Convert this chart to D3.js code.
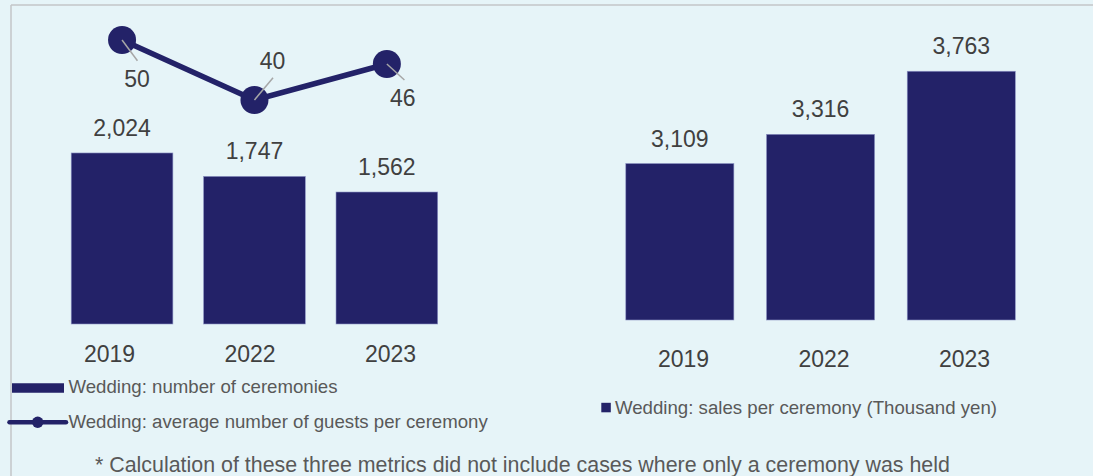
<!DOCTYPE html>
<html>
<head>
<meta charset="utf-8">
<script src="https://cdn.jsdelivr.net/npm/d3@7"></script>
<style>
  html, body { margin: 0; padding: 0; background: #e6f4f8; }
  svg { display: block; font-family: "Liberation Sans", Arial, sans-serif; }
</style>
</head>
<body>
<svg id="chart" width="1093" height="476"></svg>
<script>
// Wedding business metrics, 2019 / 2022 / 2023
const years = ["2019", "2022", "2023"];
const ceremonies = [2024, 1747, 1562];          // number of ceremonies
const guestsPerCeremony = [50, 40, 46];         // average guests per ceremony
const salesPerCeremony = [3109, 3316, 3763];    // thousand yen per ceremony

const legendCeremonies = "Wedding: number of ceremonies";
const legendGuests = "Wedding: average number of guests per ceremony";
const legendSales = "Wedding: sales per ceremony (Thousand yen)";
const footnote = "* Calculation of these three metrics did not include cases where only a ceremony was held";

const NAVY = "#232268";
const VALUE_TEXT = "#404040";
const LEGEND_TEXT = "#595959";
const fmt = d3.format(",");

const svg = d3.select("#chart");

// frame lines
svg.append("line").attr("x1", 11).attr("x2", 1093).attr("y1", 5).attr("y2", 5)
  .attr("stroke", "#c3c6c8").attr("stroke-width", 1.5);
svg.append("line").attr("x1", 11).attr("x2", 11).attr("y1", 5).attr("y2", 476)
  .attr("stroke", "#c3c6c8").attr("stroke-width", 1.5);

// ---------- left panel: ceremonies (bars) + guests (line) ----------
const xL = d3.scaleBand().domain(years).range([71.2, 437.7]).paddingInner(0.232).paddingOuter(0);
const yL = d3.scaleLinear().domain([0, 2500]).range([324, 112.75]);
const yG = d3.scaleLinear().domain([0, 60]).range([340, -20]);
const xLabelL = d3.scalePoint().domain(years).range([109, 390]);

const left = svg.append("g");
left.selectAll("rect.bar").data(years).join("rect")
  .attr("class", "bar")
  .attr("x", d => xL(d))
  .attr("width", xL.bandwidth())
  .attr("y", (d, i) => yL(ceremonies[i]))
  .attr("height", (d, i) => yL(0) - yL(ceremonies[i]))
  .attr("fill", NAVY)
  .attr("stroke", "#8c93c4").attr("stroke-width", 0.6);

left.selectAll("text.val").data(years).join("text")
  .attr("class", "val")
  .attr("x", d => xL(d) + xL.bandwidth() / 2)
  .attr("y", (d, i) => yL(ceremonies[i]) - 17)
  .attr("text-anchor", "middle")
  .attr("font-size", 23).attr("fill", VALUE_TEXT)
  .text((d, i) => fmt(ceremonies[i]));

const axL = left.append("g").attr("transform", "translate(0,362)")
  .call(d3.axisBottom(xLabelL).tickSize(0).tickPadding(0));
axL.select(".domain").remove();
axL.selectAll("text").attr("font-size", 23).attr("fill", VALUE_TEXT)
  .attr("font-family", "Liberation Sans, Arial, sans-serif").attr("dy", 0);

// guests line
const cx = d => xL(d) + xL.bandwidth() / 2;
const linePts = years.map((d, i) => [cx(d), yG(guestsPerCeremony[i])]);
left.append("path")
  .attr("d", d3.line()(linePts))
  .attr("fill", "none").attr("stroke", NAVY).attr("stroke-width", 5.5)
  .attr("stroke-linejoin", "round");
left.selectAll("circle.pt").data(linePts).join("circle")
  .attr("class", "pt")
  .attr("cx", d => d[0]).attr("cy", d => d[1]).attr("r", 14)
  .attr("fill", NAVY);

// data labels with leader lines
const labelOffsets = [
  { lx: 15.4, ly: 20.7, tx: 15, ty: 46.5 },
  { lx: 18.6, ly: -22.3, tx: 18, ty: -31.5 },
  { lx: 17.6, ly: 16, tx: 16, ty: 42.3 }
];
linePts.forEach((p, i) => {
  const o = labelOffsets[i];
  left.append("line")
    .attr("x1", p[0]).attr("y1", p[1])
    .attr("x2", p[0] + o.lx).attr("y2", p[1] + o.ly)
    .attr("stroke", "#a6a6a6").attr("stroke-width", 1.5);
  left.append("text")
    .attr("x", p[0] + o.tx).attr("y", p[1] + o.ty)
    .attr("text-anchor", "middle")
    .attr("font-size", 23).attr("fill", VALUE_TEXT)
    .text(guestsPerCeremony[i]);
});

// ---------- right panel: sales per ceremony ----------
const xR = d3.scaleBand().domain(years).range([625.8, 1015.3]).paddingInner(0.232).paddingOuter(0);
const yR = d3.scaleLinear().domain([2000, 4000]).range([320, 37.8]);
const xLabelR = d3.scalePoint().domain(years).range([683, 964]);

const right = svg.append("g");
right.selectAll("rect.bar").data(years).join("rect")
  .attr("class", "bar")
  .attr("x", d => xR(d))
  .attr("width", xR.bandwidth())
  .attr("y", (d, i) => yR(salesPerCeremony[i]))
  .attr("height", (d, i) => yR(2000) - yR(salesPerCeremony[i]))
  .attr("fill", NAVY)
  .attr("stroke", "#8c93c4").attr("stroke-width", 0.6);

right.selectAll("text.val").data(years).join("text")
  .attr("class", "val")
  .attr("x", d => xR(d) + xR.bandwidth() / 2)
  .attr("y", (d, i) => yR(salesPerCeremony[i]) - 17)
  .attr("text-anchor", "middle")
  .attr("font-size", 23).attr("fill", VALUE_TEXT)
  .text((d, i) => fmt(salesPerCeremony[i]));

const axR = right.append("g").attr("transform", "translate(0,366.5)")
  .call(d3.axisBottom(xLabelR).tickSize(0).tickPadding(0));
axR.select(".domain").remove();
axR.selectAll("text").attr("font-size", 23).attr("fill", VALUE_TEXT)
  .attr("font-family", "Liberation Sans, Arial, sans-serif").attr("dy", 0);

// ---------- legends ----------
const lg = svg.append("g");
lg.append("line").attr("x1", 12).attr("x2", 64).attr("y1", 388).attr("y2", 388)
  .attr("stroke", NAVY).attr("stroke-width", 9.5);
lg.append("text").attr("x", 68.5).attr("y", 393.3)
  .attr("font-size", 18.65).attr("fill", LEGEND_TEXT).text(legendCeremonies);

lg.append("line").attr("x1", 9.5).attr("x2", 66).attr("y1", 422.3).attr("y2", 422.3)
  .attr("stroke", NAVY).attr("stroke-width", 4.5).attr("stroke-linecap", "round");
lg.append("circle").attr("cx", 37.7).attr("cy", 422.3).attr("r", 5.7).attr("fill", NAVY);
lg.append("text").attr("x", 68.5).attr("y", 427.5)
  .attr("font-size", 18.65).attr("fill", LEGEND_TEXT).text(legendGuests);

lg.append("rect").attr("x", 601.3).attr("y", 402.8).attr("width", 9.5).attr("height", 9.5)
  .attr("fill", NAVY);
lg.append("text").attr("x", 615).attr("y", 414)
  .attr("font-size", 18.65).attr("fill", LEGEND_TEXT).text(legendSales);

// footnote
svg.append("text").attr("x", 95).attr("y", 471.5)
  .attr("font-size", 21.4).attr("fill", LEGEND_TEXT).text(footnote);
</script>
</body>
</html>
